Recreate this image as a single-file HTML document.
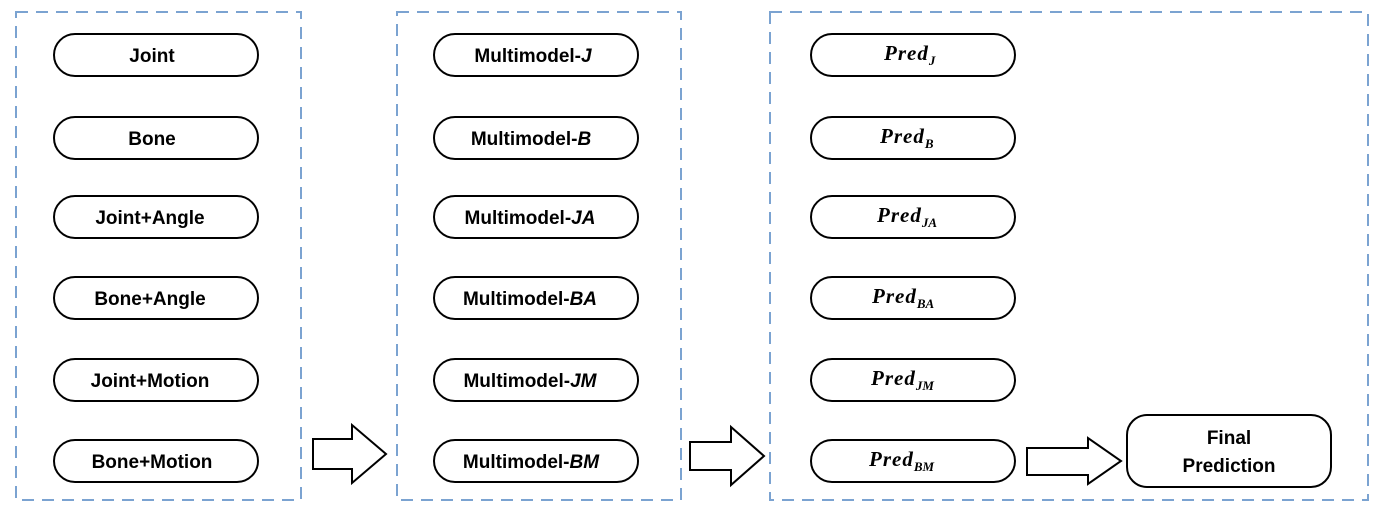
<!DOCTYPE html>
<html><head><meta charset="utf-8"><style>
html,body{margin:0;padding:0;background:#fff;}
svg{display:block;}
text{font-family:"Liberation Sans",sans-serif;font-weight:bold;font-size:19px;fill:#000;}
.p{font-family:"Liberation Serif",serif;font-style:italic;font-size:21px;letter-spacing:1px;}
.s{font-size:13px;letter-spacing:0;}
</style></head><body>
<svg width="1385" height="529" viewBox="0 0 1385 529">
<g fill="none" stroke="#7ba3d1" stroke-width="2" stroke-dasharray="12,8">
<rect x="16" y="12" width="285" height="488"/>
<rect x="397" y="12" width="284" height="488"/>
<rect x="770" y="12" width="598" height="488"/>
</g>
<g fill="#fff" stroke="#000" stroke-width="2">
<rect x="54" y="34" width="204" height="42" rx="21"/>
<rect x="54" y="117" width="204" height="42" rx="21"/>
<rect x="54" y="196" width="204" height="42" rx="21"/>
<rect x="54" y="277" width="204" height="42" rx="21"/>
<rect x="54" y="359" width="204" height="42" rx="21"/>
<rect x="54" y="440" width="204" height="42" rx="21"/>
<rect x="434" y="34" width="204" height="42" rx="21"/>
<rect x="434" y="117" width="204" height="42" rx="21"/>
<rect x="434" y="196" width="204" height="42" rx="21"/>
<rect x="434" y="277" width="204" height="42" rx="21"/>
<rect x="434" y="359" width="204" height="42" rx="21"/>
<rect x="434" y="440" width="204" height="42" rx="21"/>
<rect x="811" y="34" width="204" height="42" rx="21"/>
<rect x="811" y="117" width="204" height="42" rx="21"/>
<rect x="811" y="196" width="204" height="42" rx="21"/>
<rect x="811" y="277" width="204" height="42" rx="21"/>
<rect x="811" y="359" width="204" height="42" rx="21"/>
<rect x="811" y="440" width="204" height="42" rx="21"/>
<rect x="1127" y="415" width="204" height="72" rx="20"/>
<polygon points="313,439 352,439 352,425 386,454 352,483 352,469 313,469"/>
<polygon points="690,442 731,442 731,427 764,456 731,485 731,470 690,470"/>
<polygon points="1027,448 1088,448 1088,438 1121,461 1088,484 1088,475 1027,475"/>
</g>
<g text-anchor="middle">
<text x="152" y="62">Joint</text>
<text x="152" y="145">Bone</text>
<text x="150" y="224">Joint+Angle</text>
<text x="150" y="305">Bone+Angle</text>
<text x="150" y="387">Joint+Motion</text>
<text x="152" y="468">Bone+Motion</text>
<text x="533" y="62">Multimodel-<tspan font-style="italic">J</tspan></text>
<text x="531" y="145">Multimodel-<tspan font-style="italic">B</tspan></text>
<text x="530" y="224">Multimodel-<tspan font-style="italic">JA</tspan></text>
<text x="530" y="305">Multimodel-<tspan font-style="italic">BA</tspan></text>
<text x="530" y="387">Multimodel-<tspan font-style="italic">JM</tspan></text>
<text x="531" y="468">Multimodel-<tspan font-style="italic">BM</tspan></text>
<text x="1229" y="444">Final</text>
<text x="1229" y="472">Prediction</text>
</g>
<g>
<text class="p" x="884" y="60">Pred<tspan class="s" dy="5">J</tspan></text>
<text class="p" x="880" y="143">Pred<tspan class="s" dy="5">B</tspan></text>
<text class="p" x="877" y="222">Pred<tspan class="s" dy="5">JA</tspan></text>
<text class="p" x="872" y="303">Pred<tspan class="s" dy="5">BA</tspan></text>
<text class="p" x="871" y="385">Pred<tspan class="s" dy="5">JM</tspan></text>
<text class="p" x="869" y="466">Pred<tspan class="s" dy="5">BM</tspan></text>
</g>
</svg>
</body></html>
